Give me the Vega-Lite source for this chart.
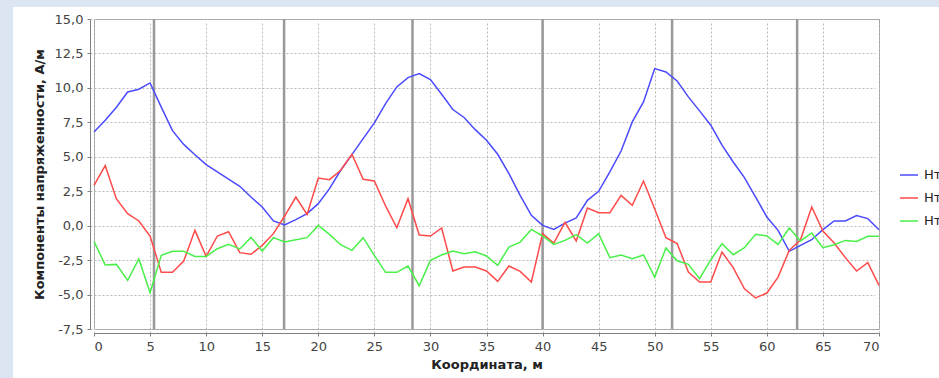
{
  "$schema": "https://vega.github.io/schema/vega-lite/v6.json",
  "width": 785,
  "height": 310,
  "autosize": {"type": "none"},
  "padding": {"left": 94, "top": 19, "right": 60, "bottom": 49},
  "background": "#ffffff",
  "config": {
    "locale": {"number": {"decimal": ",", "thousands": " ", "grouping": [3], "currency": ["", ""], "minus": "-"}},
    "view": {"stroke": "#a0a0a0", "strokeWidth": 1},
    "axis": {
      "grid": true,
      "domainColor": "#808080",
      "tickColor": "#808080",
      "tickSize": 3,
      "gridColor": "#b8b8b8",
      "gridDash": [2, 2],
      "gridWidth": 1,
      "labelOverlap": false,
      "labelFont": "DejaVu Sans",
      "labelFontSize": 13,
      "labelColor": "#444444",
      "titleFont": "DejaVu Sans",
      "titleFontSize": 13,
      "titleFontWeight": "bold",
      "titleColor": "#222222",
      "offset": 4
    },
    "axisX": {"labelPadding": 4, "titlePadding": 5},
    "axisY": {"labelPadding": 4, "titlePadding": 8},
    "legend": {
      "symbolType": "stroke",
      "symbolSize": 324,
      "symbolStrokeWidth": 1.5,
      "labelFont": "DejaVu Sans",
      "labelFontSize": 13,
      "labelColor": "#222222",
      "rowPadding": 6,
      "labelOffset": 5,
      "padding": 0
    }
  },
  "datasets": {
    "field": [
      {"x": 0, "Нтx": 6.80, "Нтy": 2.93, "Нтz": -1.14},
      {"x": 1, "Нтx": 7.65, "Нтy": 4.36, "Нтz": -2.86},
      {"x": 2, "Нтx": 8.60, "Нтy": 1.94, "Нтz": -2.81},
      {"x": 3, "Нтx": 9.70, "Нтy": 0.87, "Нтz": -3.97},
      {"x": 4, "Нтx": 9.90, "Нтy": 0.34, "Нтz": -2.42},
      {"x": 5, "Нтx": 10.36, "Нтy": -0.75, "Нтz": -4.87},
      {"x": 6, "Нтx": 8.60, "Нтy": -3.39, "Нтz": -2.15},
      {"x": 7, "Нтx": 6.90, "Нтy": -3.39, "Нтz": -1.86},
      {"x": 8, "Нтx": 5.90, "Нтy": -2.57, "Нтz": -1.86},
      {"x": 9, "Нтx": 5.15, "Нтy": -0.34, "Нтz": -2.23},
      {"x": 10, "Нтx": 4.43, "Нтy": -2.23, "Нтz": -2.23},
      {"x": 11, "Нтx": 3.90, "Нтy": -0.75, "Нтz": -1.67},
      {"x": 12, "Нтx": 3.37, "Нтy": -0.44, "Нтz": -1.36},
      {"x": 13, "Нтx": 2.86, "Нтy": -1.96, "Нтz": -1.69},
      {"x": 14, "Нтx": 2.08, "Нтy": -2.08, "Нтz": -0.85},
      {"x": 15, "Нтx": 1.36, "Нтy": -1.43, "Нтz": -1.84},
      {"x": 16, "Нтx": 0.34, "Нтy": -0.58, "Нтz": -0.87},
      {"x": 17, "Нтx": 0.05, "Нтy": 0.70, "Нтz": -1.19},
      {"x": 18, "Нтx": 0.44, "Нтy": 2.08, "Нтz": -1.02},
      {"x": 19, "Нтx": 0.87, "Нтy": 0.82, "Нтz": -0.87},
      {"x": 20, "Нтx": 1.60, "Нтy": 3.46, "Нтz": 0.02},
      {"x": 21, "Нтx": 2.69, "Нтy": 3.34, "Нтz": -0.63},
      {"x": 22, "Нтx": 4.02, "Нтy": 4.02, "Нтz": -1.38},
      {"x": 23, "Нтx": 5.16, "Нтy": 5.18, "Нтz": -1.79},
      {"x": 24, "Нтx": 6.32, "Нтy": 3.37, "Нтz": -0.87},
      {"x": 25, "Нтx": 7.46, "Нтy": 3.24, "Нтz": -2.15},
      {"x": 26, "Нтx": 8.86, "Нтy": 1.43, "Нтz": -3.39},
      {"x": 27, "Нтx": 10.07, "Нтy": -0.15, "Нтz": -3.39},
      {"x": 28, "Нтx": 10.75, "Нтy": 1.96, "Нтz": -2.93},
      {"x": 29, "Нтx": 11.04, "Нтy": -0.68, "Нтz": -4.36},
      {"x": 30, "Нтx": 10.60, "Нтy": -0.75, "Нтz": -2.52},
      {"x": 31, "Нтx": 9.54, "Нтy": -0.17, "Нтz": -2.13},
      {"x": 32, "Нтx": 8.43, "Нтy": -3.29, "Нтz": -1.84},
      {"x": 33, "Нтx": 7.85, "Нтy": -3.00, "Нтz": -2.03},
      {"x": 34, "Нтx": 6.97, "Нтy": -3.00, "Нтz": -1.89},
      {"x": 35, "Нтx": 6.20, "Нтy": -3.29, "Нтz": -2.20},
      {"x": 36, "Нтx": 5.18, "Нтy": -4.04, "Нтz": -2.88},
      {"x": 37, "Нтx": 3.78, "Нтy": -2.93, "Нтz": -1.55},
      {"x": 38, "Нтx": 2.20, "Нтy": -3.32, "Нтz": -1.19},
      {"x": 39, "Нтx": 0.75, "Нтy": -4.09, "Нтz": -0.27},
      {"x": 40, "Нтx": 0.02, "Нтy": -0.58, "Нтz": -0.75},
      {"x": 41, "Нтx": -0.27, "Нтy": -1.26, "Нтz": -1.36},
      {"x": 42, "Нтx": 0.19, "Нтy": 0.24, "Нтz": -1.07},
      {"x": 43, "Нтx": 0.56, "Нтy": -1.11, "Нтz": -0.65},
      {"x": 44, "Нтx": 1.84, "Нтy": 1.28, "Нтz": -1.26},
      {"x": 45, "Нтx": 2.49, "Нтy": 0.94, "Нтz": -0.58},
      {"x": 46, "Нтx": 3.90, "Нтy": 0.94, "Нтz": -2.32},
      {"x": 47, "Нтx": 5.42, "Нтy": 2.20, "Нтz": -2.13},
      {"x": 48, "Нтx": 7.53, "Нтy": 1.48, "Нтz": -2.40},
      {"x": 49, "Нтx": 8.98, "Нтy": 3.24, "Нтz": -2.13},
      {"x": 50, "Нтx": 11.40, "Нтy": 1.21, "Нтz": -3.73},
      {"x": 51, "Нтx": 11.16, "Нтy": -0.87, "Нтz": -1.62},
      {"x": 52, "Нтx": 10.50, "Нтy": -1.30, "Нтz": -2.55},
      {"x": 53, "Нтx": 9.35, "Нтy": -3.37, "Нтz": -2.81},
      {"x": 54, "Нтx": 8.33, "Нтy": -4.09, "Нтz": -3.85},
      {"x": 55, "Нтx": 7.29, "Нтy": -4.09, "Нтz": -2.47},
      {"x": 56, "Нтx": 5.84, "Нтy": -1.91, "Нтz": -1.31},
      {"x": 57, "Нтx": 4.62, "Нтy": -3.05, "Нтz": -2.11},
      {"x": 58, "Нтx": 3.49, "Нтy": -4.58, "Нтz": -1.60},
      {"x": 59, "Нтx": 2.08, "Нтy": -5.25, "Нтz": -0.63},
      {"x": 60, "Нтx": 0.63, "Нтy": -4.89, "Нтz": -0.75},
      {"x": 61, "Нтx": -0.34, "Нтy": -3.73, "Нтz": -1.36},
      {"x": 62, "Нтx": -1.86, "Нтy": -1.79, "Нтz": -0.17},
      {"x": 63, "Нтx": -1.43, "Нтy": -1.02, "Нтz": -1.11},
      {"x": 64, "Нтx": -1.02, "Нтy": 1.36, "Нтz": -0.53},
      {"x": 65, "Нтx": -0.29, "Нтy": -0.39, "Нтz": -1.60},
      {"x": 66, "Нтx": 0.34, "Нтy": -1.26, "Нтz": -1.38},
      {"x": 67, "Нтx": 0.34, "Нтy": -2.32, "Нтz": -1.07},
      {"x": 68, "Нтx": 0.73, "Нтy": -3.29, "Нтz": -1.14},
      {"x": 69, "Нтx": 0.51, "Нтy": -2.69, "Нтz": -0.77},
      {"x": 70, "Нтx": -0.29, "Нтy": -4.33, "Нтz": -0.77}
    ],
    "markers": [
      {"pos": 5.35},
      {"pos": 16.95},
      {"pos": 28.4},
      {"pos": 40.0},
      {"pos": 51.55},
      {"pos": 62.7}
    ]
  },
  "layer": [
    {
      "data": {"values": [{}]},
      "mark": {"type": "rect", "color": "#dce6f2", "clip": false},
      "encoding": {
        "x": {"datum": -9, "type": "quantitative", "title": "Координата, м"},
        "x2": {"datum": -7.22},
        "y": {"datum": 17, "type": "quantitative", "title": "Компоненты напряженности, А/м"},
        "y2": {"datum": -12}
      }
    },
    {
      "data": {"values": [{}]},
      "mark": {"type": "rect", "color": "#dce6f2", "clip": false},
      "encoding": {
        "x": {"datum": -9, "type": "quantitative", "title": "Координата, м"},
        "x2": {"datum": 80},
        "y": {"datum": 17, "type": "quantitative", "title": "Компоненты напряженности, А/м"},
        "y2": {"datum": 15.87}
      }
    },
    {
      "data": {"name": "markers"},
      "mark": {"type": "rule", "color": "#999999", "strokeWidth": 2.5},
      "encoding": {
        "x": {"field": "pos", "type": "quantitative", "title": "Координата, м"}
      }
    },
    {
      "data": {"name": "field"},
      "transform": [{"fold": ["Нтx", "Нтy", "Нтz"], "as": ["series", "v"]}],
      "mark": {"type": "line", "strokeWidth": 1.5},
      "encoding": {
        "x": {
          "field": "x",
          "type": "quantitative",
          "title": "Координата, м",
          "scale": {"domain": [0, 70], "nice": false, "zero": false},
          "axis": {"grid": true, "tickCount": 20, "values": [0, 5, 10, 15, 20, 25, 30, 35, 40, 45, 50, 55, 60, 65, 70], "format": "d"}
        },
        "y": {
          "field": "v",
          "type": "quantitative",
          "title": "Компоненты напряженности, А/м",
          "scale": {"domain": [-7.5, 15], "nice": false, "zero": false},
          "axis": {"grid": true, "tickCount": 12, "labelOverlap": false, "values": [-7.5, -5, -2.5, 0, 2.5, 5, 7.5, 10, 12.5, 15], "format": ".1f"}
        },
        "color": {
          "field": "series",
          "type": "nominal",
          "scale": {"domain": ["Нтx", "Нтy", "Нтz"], "range": ["#4a4aff", "#ff4a4a", "#4af04a"]},
          "legend": {"title": null, "orient": "none", "legendX": 805, "legendY": 146}
        }
      }
    }
  ]
}
